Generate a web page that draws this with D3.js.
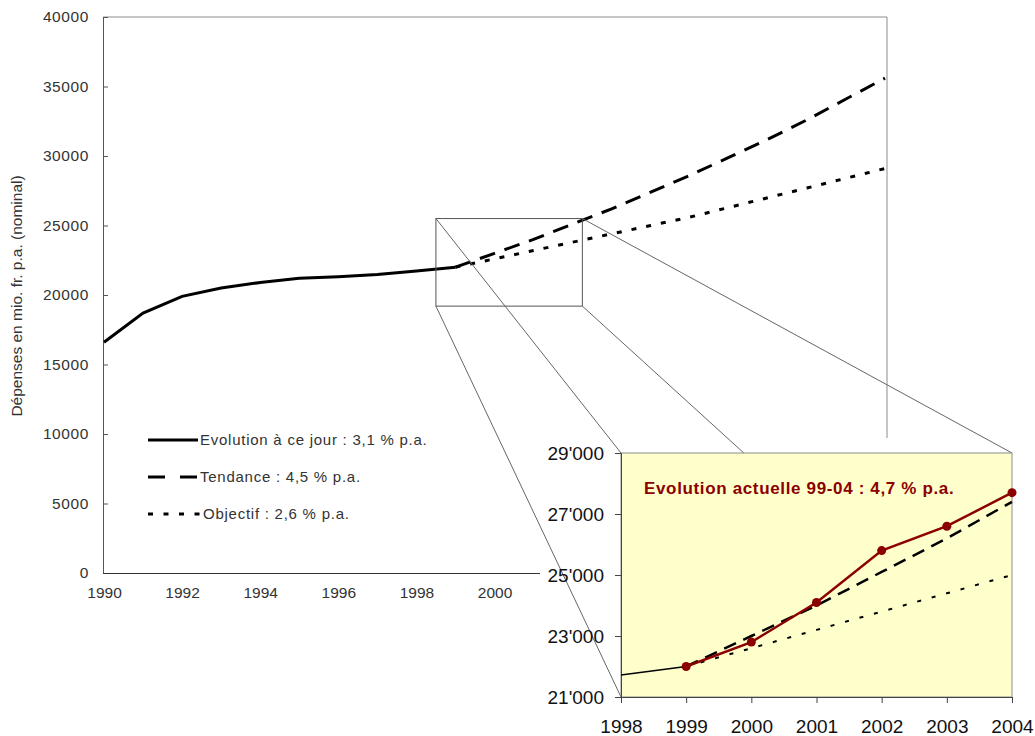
<!DOCTYPE html>
<html>
<head>
<meta charset="utf-8">
<script src="https://cdn.jsdelivr.net/npm/d3@7"></script>
<style>
  html, body { margin: 0; padding: 0; background: #fff; }
  svg { display: block; font-family: Arial, "Liberation Sans", sans-serif; }
</style>
</head>
<body>
<svg id="chart" width="1035" height="736"></svg>
<script>
// Dépenses (mio. fr., nominal)
const histYears = [1990, 1991, 1992, 1993, 1994, 1995, 1996, 1997, 1998, 1999];
const histValues = [16600, 18700, 19900, 20500, 20900, 21200, 21320, 21480, 21720, 22000];

const projYears = [1999, 2000, 2001, 2002, 2003, 2004, 2005, 2006, 2007, 2008, 2009, 2010];
const trendValues = [22000, 23000, 24000, 25100, 26200, 27400, 28600, 29900, 31200, 32600, 34100, 35600];
const targetValues = [22000, 22600, 23200, 23800, 24400, 25000, 25600, 26300, 27000, 27700, 28400, 29100];

// Zoomed detail 1998-2004
const actualYears = [1999, 2000, 2001, 2002, 2003, 2004];
const actualValues = [22000, 22800, 24100, 25800, 26600, 27700];

const mainYTicks = [0, 5000, 10000, 15000, 20000, 25000, 30000, 35000, 40000];
const mainXTicks = [1990, 1992, 1994, 1996, 1998, 2000, 2002, 2004, 2006, 2008, 2010];
const insetYTicks = [21000, 23000, 25000, 27000, 29000];
const insetXTicks = [1998, 1999, 2000, 2001, 2002, 2003, 2004];

const legendItems = [
  { label: "Evolution à ce jour : 3,1 % p.a.", dash: null, len: 50, gap: 52 },
  { label: "Tendance : 4,5 % p.a.", dash: "17,15", len: 50, gap: 52 },
  { label: "Objectif : 2,6 % p.a.", dash: "5,10.5", len: 52, gap: 55 }
];
const insetTitle = "Evolution actuelle 99-04 : 4,7 % p.a.";
const yAxisTitle = "Dépenses en mio. fr.  p.a. (nominal)";

// Extent of the magnified window, in data units
const zoomYears = [1998.5, 2002.25];
const zoomValues = [19200, 25500];

const svg = d3.select("#chart");
const textCol = "#333";
const FONT = "Arial, 'Liberation Sans', sans-serif";

// ---------- main chart ----------
const M = { left: 103, right: 887, top: 17, bottom: 573 };
const x = d3.scaleLinear().domain([1990, 2010]).range([M.left + 1, M.right - 2]);
const y = d3.scaleLinear().domain([0, 40000]).range([M.bottom, M.top]);

const main = svg.append("g");

// frame (top and right)
main.append("path")
  .attr("d", `M${M.left},${M.top}H${M.right}V${M.bottom}`)
  .attr("fill", "none").attr("stroke", "#8c8c8c").attr("stroke-width", 1);

// y axis with inner ticks
const yAxis = main.append("g").attr("transform", `translate(${M.left},0)`)
  .call(d3.axisLeft(y).tickValues(mainYTicks).tickSize(-5).tickPadding(14).tickFormat(d3.format("d")));
yAxis.select(".domain").attr("stroke", "#555");
yAxis.selectAll(".tick line").attr("stroke", "#555");
yAxis.selectAll("text").attr("font-size", 15.5).attr("fill", textCol)
  .attr("letter-spacing", 0.6).attr("font-family", FONT);

// x axis, labels only
const xAxis = main.append("g").attr("transform", `translate(0,${M.bottom})`)
  .call(d3.axisBottom(x).tickValues(mainXTicks).tickSize(0).tickPadding(14).tickFormat(d3.format("d")));
xAxis.select(".domain").attr("d", `M${M.left},0.5H${M.right}`).attr("stroke", "#333");
xAxis.selectAll("text").attr("font-size", 15.5).attr("fill", textCol)
  .attr("font-family", FONT);

main.append("text")
  .attr("transform", `translate(22,${(M.top + M.bottom) / 2 + 1}) rotate(-90)`)
  .attr("text-anchor", "middle")
  .attr("font-size", 15.5).attr("fill", textCol)
  .text(yAxisTitle);

const mainLine = d3.line().x(d => x(d[0])).y(d => y(d[1]));

main.append("path")
  .attr("d", mainLine(d3.zip(histYears, histValues)))
  .attr("fill", "none").attr("stroke", "#000").attr("stroke-width", 3);
main.append("path")
  .attr("d", mainLine(d3.zip(projYears, trendValues)))
  .attr("fill", "none").attr("stroke", "#000").attr("stroke-width", 3)
  .attr("stroke-dasharray", "16,10");
main.append("path")
  .attr("d", mainLine(d3.zip(projYears, targetValues)))
  .attr("fill", "none").attr("stroke", "#000").attr("stroke-width", 3)
  .attr("stroke-dasharray", "5,10");

// legend
const legend = main.append("g").attr("transform", "translate(148,440)");
legendItems.forEach((it, i) => {
  const g = legend.append("g").attr("transform", `translate(0,${i * 37})`);
  g.append("line").attr("x1", 0).attr("x2", it.len).attr("y1", 0).attr("y2", 0)
    .attr("stroke", "#000").attr("stroke-width", 3)
    .attr("stroke-dasharray", it.dash);
  g.append("text").attr("x", it.gap).attr("y", 5)
    .attr("font-size", 15).attr("letter-spacing", 0.75).attr("fill", textCol).text(it.label);
});

// ---------- magnified detail ----------
const I = { left: 621, right: 1012, top: 453, bottom: 697 };
const xi = d3.scaleLinear().domain([1998, 2004]).range([I.left, I.right]);
const yi = d3.scaleLinear().domain([21000, 29000]).range([I.bottom, I.top]);

// backdrop of the detail chart
svg.append("rect").attr("x", 540).attr("y", 438).attr("width", 495).attr("height", 298).attr("fill", "#fff");

// window on the main chart and its connectors
const zx0 = x(zoomYears[0]), zx1 = x(zoomYears[1]);
const zy0 = y(zoomValues[1]), zy1 = y(zoomValues[0]);
const conn = svg.append("g").attr("stroke", "#666").attr("stroke-width", 1).attr("fill", "none");
conn.append("rect").attr("x", zx0).attr("y", zy0).attr("width", zx1 - zx0).attr("height", zy1 - zy0)
  .attr("stroke", "#555");
[[zx0, zy0, I.left, I.top], [zx0, zy1, I.left, I.bottom], [zx1, zy0, I.right, I.top], [zx1, zy1, I.right, I.bottom]]
  .forEach(c => conn.append("line").attr("x1", c[0]).attr("y1", c[1]).attr("x2", c[2]).attr("y2", c[3]));

const inset = svg.append("g");
inset.append("rect").attr("x", I.left).attr("y", I.top)
  .attr("width", I.right - I.left).attr("height", I.bottom - I.top)
  .attr("fill", "#ffffcc").attr("stroke", "#8c8c8c").attr("stroke-width", 1);

const yiAxis = inset.append("g").attr("transform", `translate(${I.left},0)`)
  .call(d3.axisLeft(yi).tickValues(insetYTicks).tickSize(6).tickPadding(11)
    .tickFormat(d => d3.format(",")(d).replace(",", "'")));
yiAxis.select(".domain").attr("stroke", "#444");
yiAxis.selectAll(".tick line").attr("stroke", "#444");
yiAxis.selectAll("text").attr("font-size", 19).attr("fill", "#111")
  .attr("font-family", FONT);

const xiAxis = inset.append("g").attr("transform", `translate(0,${I.bottom})`)
  .call(d3.axisBottom(xi).tickValues(insetXTicks).tickSize(6).tickPadding(17).tickFormat(d3.format("d")));
xiAxis.select(".domain").attr("stroke", "#444");
xiAxis.selectAll(".tick line").attr("stroke", "#444");
xiAxis.selectAll("text").attr("font-size", 19).attr("fill", "#111")
  .attr("font-family", FONT);

const insetLine = d3.line().x(d => xi(d[0])).y(d => yi(d[1]));
const inYears = projYears.filter(v => v <= 2004);

inset.append("path")
  .attr("d", insetLine(d3.zip(histYears, histValues).filter(d => d[0] >= 1998)))
  .attr("fill", "none").attr("stroke", "#000").attr("stroke-width", 1.5);
inset.append("path")
  .attr("d", insetLine(d3.zip(inYears, trendValues)))
  .attr("fill", "none").attr("stroke", "#000").attr("stroke-width", 2.5)
  .attr("stroke-dasharray", "13,8");
inset.append("path")
  .attr("d", insetLine(d3.zip(inYears, targetValues)))
  .attr("fill", "none").attr("stroke", "#000").attr("stroke-width", 2)
  .attr("stroke-dasharray", "4,11");

const red = "#8b0000";
inset.append("path")
  .attr("d", insetLine(d3.zip(actualYears, actualValues)))
  .attr("fill", "none").attr("stroke", red).attr("stroke-width", 2.5);
inset.selectAll("circle.pt").data(d3.zip(actualYears, actualValues)).join("circle")
  .attr("class", "pt")
  .attr("cx", d => xi(d[0])).attr("cy", d => yi(d[1])).attr("r", 4.5)
  .attr("fill", red);

inset.append("text").attr("x", 644).attr("y", 494)
  .attr("font-size", 17).attr("font-weight", "bold").attr("letter-spacing", 0.65).attr("fill", red)
  .text(insetTitle);
</script>
</body>
</html>
